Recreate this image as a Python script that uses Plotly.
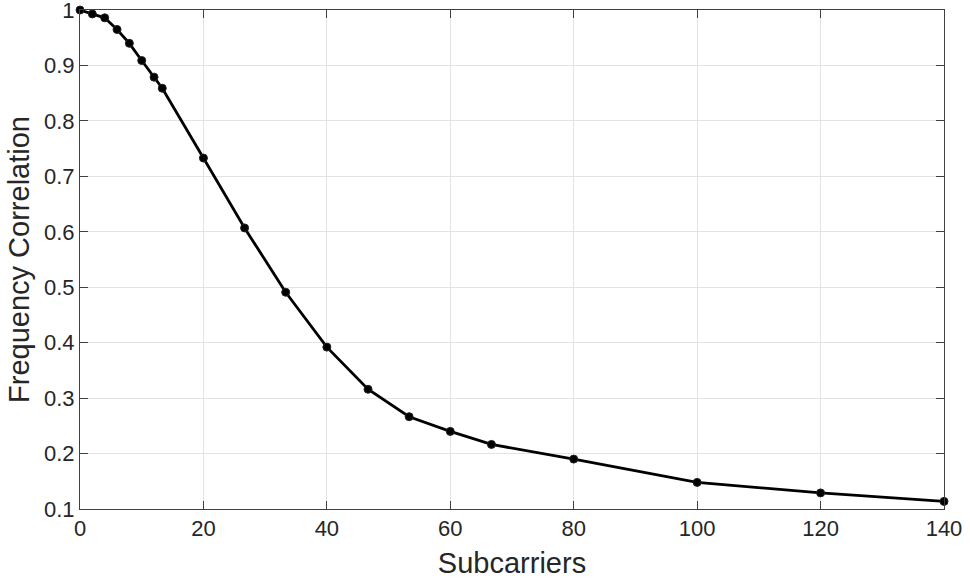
import plotly.graph_objects as go

subcarriers = [0, 2, 4, 6, 8, 10, 12, 13.33, 20, 26.67, 33.33, 40, 46.67, 53.33, 60, 66.67, 80, 100, 120, 140]
correlation = [1.0, 0.993, 0.986, 0.965, 0.94, 0.909, 0.879, 0.859, 0.733, 0.607, 0.491, 0.392, 0.316, 0.2665, 0.240, 0.2165, 0.190, 0.148, 0.129, 0.1137]

x_ticks = [0, 20, 40, 60, 80, 100, 120, 140]
y_ticks = [0.1, 0.2, 0.3, 0.4, 0.5, 0.6, 0.7, 0.8, 0.9, 1.0]
y_ticktext = ["0.1", "0.2", "0.3", "0.4", "0.5", "0.6", "0.7", "0.8", "0.9", "1"]

FONT = "Liberation Sans"

fig = go.Figure()
fig.add_trace(go.Scatter(
    x=subcarriers, y=correlation, mode="lines+markers",
    line=dict(color="black", width=2.8),
    marker=dict(color="black", size=8, line=dict(color="#222222", width=1)),
    cliponaxis=False, showlegend=False,
))

fig.update_layout(
    width=970, height=586,
    margin=dict(l=80, r=26, t=10, b=77),
    paper_bgcolor="white", plot_bgcolor="white",
    font=dict(family=FONT, size=22, color="#262626"),
)

for upd in (fig.update_xaxes, fig.update_yaxes):
    upd(showline=True, linecolor="#404040", linewidth=1, mirror="ticks",
        ticks="inside", ticklen=8, tickcolor="#404040",
        showgrid=True, gridcolor="#e3e3e3", gridwidth=1,
        zeroline=False, automargin=False, ticklabeloverflow="allow",
        tickfont=dict(family=FONT, size=22, color="#262626"),
        title_font=dict(family=FONT, size=29, color="#262626"))

fig.update_xaxes(range=[0, 140], tickmode="array", tickvals=x_ticks,
                 title_text="Subcarriers", title_standoff=12)
fig.update_yaxes(range=[0.1, 1.0001], tickmode="array", tickvals=y_ticks, ticktext=y_ticktext,
                 title_text="Frequency Correlation", title_standoff=5)

fig.write_html("out.html")
